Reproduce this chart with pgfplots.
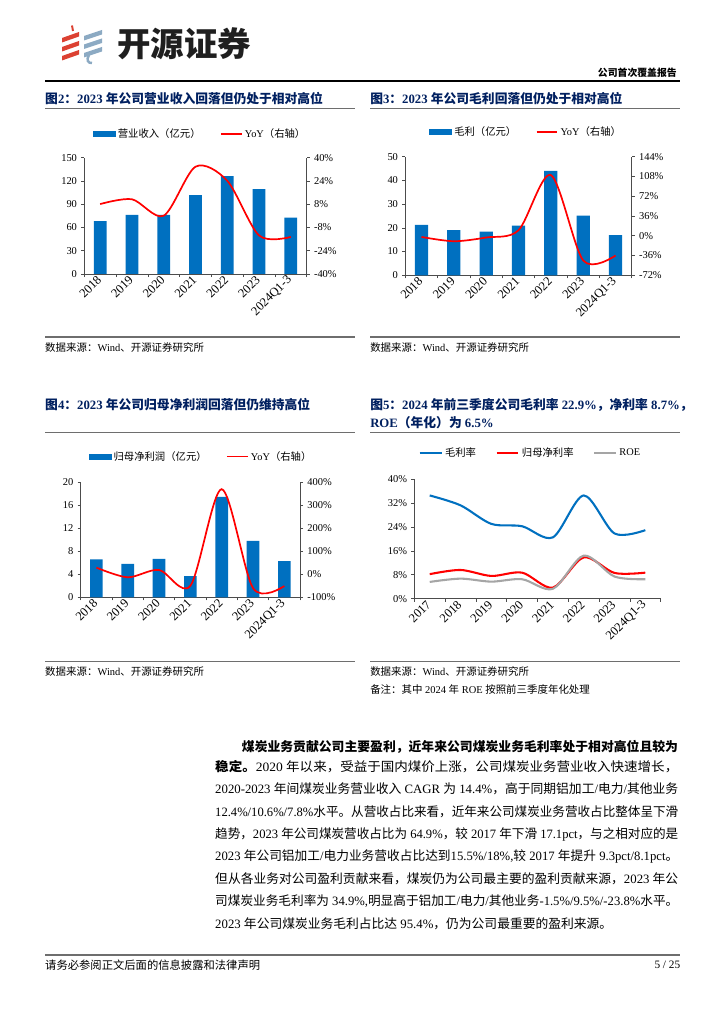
\documentclass[border=0pt]{standalone}
\usepackage{pgfplots}
\pgfplotsset{compat=1.18}
\usepackage{graphicx}
\usepackage{fontspec}
\setmainfont{Liberation Serif}
\newfontfamily\cjkfont{Noto Sans CJK SC}
% automatic switching between Latin (Liberation Serif) and CJK (Noto Sans CJK SC)
\XeTeXinterchartokenstate=1
\newXeTeXintercharclass\CJKcls
\newcount\cc
\def\setcls#1#2{\cc=#1\relax\loop\XeTeXcharclass\cc=\CJKcls\relax\ifnum\cc<#2\advance\cc by 1\repeat}
\setcls{"3000}{"303F}
\setcls{"4E00}{"9FFF}
\setcls{"FF00}{"FFEF}
\XeTeXinterchartoks 0 \CJKcls={\cjkfont}
\XeTeXinterchartoks 4095 \CJKcls={\cjkfont}
\XeTeXinterchartoks \CJKcls 0={\rmfamily}
\XeTeXinterchartoks \CJKcls 4095={\rmfamily}

\definecolor{barblue}{RGB}{0,112,192}
\definecolor{navy}{RGB}{0,32,96}
\definecolor{rulegray}{RGB}{110,110,110}
\definecolor{roegray}{RGB}{165,165,165}
\definecolor{logored}{RGB}{220,65,50}
\definecolor{logoblue}{RGB}{140,170,195}

\newcommand\titlefont{\fontsize{10.5}{12}\selectfont\bfseries}
\newcommand\bodyfont{\fontsize{10.5}{13}\selectfont}
\newcommand\srcfont{\fontsize{8.6}{10}\selectfont}

\pgfplotsset{
  pagechart/.style={
    scale only axis, anchor=south west,
    xmin=-0.5, xmax=6.5,
    axis line style={-, black!70, line width=0.6pt},
    tick style={black!70, line width=0.5pt},
    major tick length=2.5pt, minor tick length=2.5pt,
    tick align=outside,
    ticklabel style={font=\fontsize{8.6}{10}\selectfont},
    /pgf/number format/assume math mode=true,
    clip=false,
  },
  catx/.style={
    xtick={0,...,6}, major x tick style={draw=none},
    minor xtick={-0.5,0.5,...,6.5},
    xticklabel style={rotate=45, anchor=east, inner sep=1pt, font=\fontsize{10.3}{12}\selectfont},
  },
  leg/.style={legend columns=-1,
    legend style={draw=none, fill=none, at={#1}, anchor=center,
      font=\fontsize{8.5}{10}\selectfont,
      /tikz/every even column/.append style={column sep=14pt}, inner sep=0pt}},
}

\begin{document}
\begin{tikzpicture}
\begin{scope}[x=0.8222pt,y=0.8222pt]
\fill[white] (0,0) rectangle (724,1024);
\coordinate (c2) at (84.3,750);
\coordinate (c3) at (405.3,748.7);
\coordinate (c4) at (80.7,426.7);
\coordinate (c5) at (414.3,425.3);
% ---------- header ----------
\foreach \k in {0,1,2}{
  \fill[logored] (62,{1024-38-9*\k}) -- (79,{1024-32-9*\k}) -- (79,{1024-36.5-9*\k}) -- (62,{1024-42.5-9*\k}) -- cycle;
  \fill[logoblue] (84,{1024-36-8.5*\k}) -- (102,{1024-30-8.5*\k}) -- (102,{1024-34.5-8.5*\k}) -- (84,{1024-40.5-8.5*\k}) -- cycle;
}
\draw[logored, line width=1.6pt] (72,1024-25.5) -- (73,1024-31);
\draw[logoblue, line width=2pt] (89,1024-55) .. controls (86,1024-60) and (88,1024-63.5) .. (92,1024-63);
\node[anchor=west, inner sep=0, font=\fontsize{27.5}{30}\selectfont\bfseries, text=black!88] at (117,1024-43.5) {开源证券};
\node[anchor=base east, inner sep=0, font=\fontsize{8.1}{10}\selectfont\bfseries] at (677,1024-77) {公司首次覆盖报告};
\draw[black, line width=0.9pt] (45,1024-81) -- (680,1024-81);
% ---------- chart titles and rules ----------
\node[anchor=west, inner sep=0, font=\titlefont, text=navy] at (45,1024-98.3) {图2：2023 年公司营业收入回落但仍处于相对高位};
\node[anchor=west, inner sep=0, font=\titlefont, text=navy] at (370,1024-98.3) {图3：2023 年公司毛利回落但仍处于相对高位};
\draw[rulegray, line width=0.8pt] (45,1024-109) -- (355,1024-109);
\draw[rulegray, line width=0.8pt] (370,1024-109) -- (680,1024-109);
\draw[rulegray, line width=1.6pt] (45,1024-337) -- (355,1024-337);
\draw[rulegray, line width=1.6pt] (370,1024-337) -- (680,1024-337);
\node[anchor=west, inner sep=0, font=\srcfont] at (45,1024-348) {数据来源：Wind、开源证券研究所};
\node[anchor=west, inner sep=0, font=\srcfont] at (370,1024-348) {数据来源：Wind、开源证券研究所};

\node[anchor=west, inner sep=0, font=\titlefont, text=navy] at (45,1024-405) {图4：2023 年公司归母净利润回落但仍维持高位};
\node[anchor=west, inner sep=0, font=\titlefont, text=navy] at (370,1024-405) {图5：2024 年前三季度公司毛利率 22.9\%，净利率 8.7\%，};
\node[anchor=west, inner sep=0, font=\titlefont, text=navy] at (370,1024-423) {ROE（年化）为 6.5\%};
\draw[rulegray, line width=0.8pt] (45,1024-433) -- (355,1024-433);
\draw[rulegray, line width=0.8pt] (370,1024-433) -- (680,1024-433);
\draw[rulegray, line width=1.6pt] (45,1024-661.5) -- (355,1024-661.5);
\draw[rulegray, line width=1.6pt] (370,1024-661.5) -- (680,1024-661.5);
\node[anchor=west, inner sep=0, font=\srcfont] at (45,1024-672) {数据来源：Wind、开源证券研究所};
\node[anchor=west, inner sep=0, font=\srcfont] at (370,1024-672) {数据来源：Wind、开源证券研究所};
\node[anchor=west, inner sep=0, font=\srcfont] at (370,1024-690) {备注：其中 2024 年 ROE 按照前三季度年化处理};
% ---------- body text ----------
\node[anchor=west, inner sep=0, font=\bodyfont] at (241.7,1024-746.7) {\resizebox{358.5pt}{\height}{\bfseries 煤炭业务贡献公司主要盈利，近年来公司煤炭业务毛利率处于相对高位且较为}};
\node[anchor=west, inner sep=0, font=\bodyfont] at (215,1024-766.7) {\resizebox{380.7pt}{\height}{{\bfseries 稳定。}2020 年以来，受益于国内煤价上涨，公司煤炭业务营业收入快速增长，}};
\node[anchor=west, inner sep=0, font=\bodyfont] at (215,1024-789) {\resizebox{380.7pt}{\height}{2020-2023 年间煤炭业务营业收入 CAGR 为 14.4\%，高于同期铝加工/电力/其他业务}};
\node[anchor=west, inner sep=0, font=\bodyfont] at (215,1024-811.7) {\resizebox{380.7pt}{\height}{12.4\%/10.6\%/7.8\%水平。从营收占比来看，近年来公司煤炭业务营收占比整体呈下滑}};
\node[anchor=west, inner sep=0, font=\bodyfont] at (215,1024-834) {\resizebox{380.7pt}{\height}{趋势，2023 年公司煤炭营收占比为 64.9\%，较 2017 年下滑 17.1pct，与之相对应的是}};
\node[anchor=west, inner sep=0, font=\bodyfont] at (215,1024-856.4) {\resizebox{380.7pt}{\height}{2023 年公司铝加工/电力业务营收占比达到15.5\%/18\%,较 2017 年提升 9.3pct/8.1pct。}};
\node[anchor=west, inner sep=0, font=\bodyfont] at (215,1024-878.8) {\resizebox{380.7pt}{\height}{但从各业务对公司盈利贡献来看，煤炭仍为公司最主要的盈利贡献来源，2023 年公}};
\node[anchor=west, inner sep=0, font=\bodyfont] at (215,1024-901.2) {\resizebox{380.7pt}{\height}{司煤炭业务毛利率为 34.9\%,明显高于铝加工/电力/其他业务-1.5\%/9.5\%/-23.8\%水平。}};
\node[anchor=west, inner sep=0, font=\bodyfont] at (215,1024-923.6) {2023 年公司煤炭业务毛利占比达 95.4\%，仍为公司最重要的盈利来源。};
% ---------- footer ----------
\draw[rulegray, line width=1.5pt] (45,1024-955) -- (680,1024-955);
\node[anchor=west, inner sep=0, font=\fontsize{9.3}{11}\selectfont] at (45,1024-965) {请务必参阅正文后面的信息披露和法律声明};
\node[anchor=east, inner sep=0, font=\fontsize{9.3}{11}\selectfont] at (680.5,1024-965) {5 / 25};
\end{scope}

% ================= Chart 2 =================
\begin{axis}[pagechart, catx, at={(c2)}, width=182.86pt, height=95.62pt,
  axis x line*=bottom, axis y line*=left,
  ymin=0, ymax=150, ytick={0,30,60,90,120,150},
  xticklabels={2018,2019,2020,2021,2022,2023,2024Q1-3},
  leg={(0.522,1.204)}]
\addlegendimage{legend image code/.code={\fill[barblue] (0pt,-2.2pt) rectangle (18pt,2.2pt);}}
\addlegendentry{营业收入（亿元）}
\addlegendimage{legend image code/.code={\draw[red, line width=1.4pt] (0pt,0pt) -- (17pt,0pt);}}
\addlegendentry{YoY（右轴）}
\addplot[ybar, bar width=10.44pt, fill=barblue, draw=none, forget plot] coordinates {(0,68.3) (1,76.1) (2,76.1) (3,101.8) (4,126.3) (5,109.6) (6,72.6)};
\end{axis}
\begin{axis}[pagechart, at={(c2)}, width=182.86pt, height=95.62pt,
  axis x line=none, axis y line*=right,
  ymin=-40, ymax=40, ytick={-40,-24,-8,8,24,40},
  yticklabels={-40\%,-24\%,-8\%,8\%,24\%,40\%}]
\addplot[red, line width=1.4pt, smooth] coordinates {(0,8.1) (1,11.4) (2,0.1) (3,33.8) (4,24.1) (5,-13.5) (6,-14.5)};
\end{axis}

% ================= Chart 3 =================
\begin{axis}[pagechart, catx, at={(c3)}, width=186.15pt, height=97.51pt,
  axis x line*=bottom, axis y line*=left,
  ymin=0, ymax=50, ytick={0,10,20,30,40,50},
  xticklabels={2018,2019,2020,2021,2022,2023,2024Q1-3},
  leg={(0.535,1.211)}]
\addlegendimage{legend image code/.code={\fill[barblue] (0pt,-2.2pt) rectangle (18pt,2.2pt);}}
\addlegendentry{毛利（亿元）}
\addlegendimage{legend image code/.code={\draw[red, line width=1.4pt] (0pt,0pt) -- (17pt,0pt);}}
\addlegendentry{YoY（右轴）}
\addplot[ybar, bar width=10.9pt, fill=barblue, draw=none, forget plot] coordinates {(0,21.2) (1,19.0) (2,18.4) (3,20.9) (4,44.0) (5,25.1) (6,16.9)};
\end{axis}
\begin{axis}[pagechart, at={(c3)}, width=186.15pt, height=97.51pt,
  axis x line=none, axis y line*=right,
  ymin=-72, ymax=144, ytick={-72,-36,0,36,72,108,144},
  yticklabels={-72\%,-36\%,0\%,36\%,72\%,108\%,144\%}]
\addplot[red, line width=1.4pt, smooth] coordinates {(0,-2.2) (1,-10.0) (2,-3.2) (3,10) (4,110.5) (5,-45) (6,-36)};
\end{axis}

% ================= Chart 4 =================
\begin{axis}[pagechart, catx, at={(c4)}, width=180.31pt, height=94.55pt,
  axis x line*=bottom, axis y line*=left,
  ymin=0, ymax=20, ytick={0,4,8,12,16,20},
  xticklabels={2018,2019,2020,2021,2022,2023,2024Q1-3},
  leg={(0.55,1.223)}]
\addlegendimage{legend image code/.code={\fill[barblue] (0pt,-2.2pt) rectangle (18pt,2.2pt);}}
\addlegendentry{归母净利润（亿元）}
\addlegendimage{legend image code/.code={\draw[red, line width=1.4pt] (0pt,0pt) -- (17pt,0pt);}}
\addlegendentry{YoY（右轴）}
\addplot[ybar, bar width=10.4pt, fill=barblue, draw=none, forget plot] coordinates {(0,6.6) (1,5.8) (2,6.67) (3,3.7) (4,17.45) (5,9.8) (6,6.3)};
\end{axis}
\begin{axis}[pagechart, at={(c4)}, width=180.31pt, height=94.55pt,
  axis x line=none, axis y line*=right,
  ymin=-100, ymax=400, ytick={-100,0,100,200,300,400},
  yticklabels={-100\%,0\%,100\%,200\%,300\%,400\%}]
\addplot[red, line width=1.4pt, smooth] coordinates {(0,29) (1,-13) (2,19) (3,-50) (4,370) (5,-60) (6,-51)};
\end{axis}

% ================= Chart 5 =================
\begin{axis}[pagechart, at={(c5)}, width=202.59pt, height=98.42pt,
  xmin=-0.5, xmax=7.5,
  axis x line*=bottom, axis y line*=left,
  ymin=0, ymax=40, ytick={0,8,16,24,32,40},
  yticklabels={0\%,8\%,16\%,24\%,32\%,40\%},
  xtick={0,...,7}, major x tick style={draw=none},
  minor xtick={-0.5,0.5,...,7.5},
  xticklabel style={rotate=45, anchor=east, inner sep=1pt, font=\fontsize{10.3}{12}\selectfont},
  xticklabels={2017,2018,2019,2020,2021,2022,2023,2024Q1-3},
  leg={(0.472,1.217)}]
\addlegendimage{legend image code/.code={\draw[barblue, line width=1.7pt] (0pt,0pt) -- (18pt,0pt);}}
\addlegendentry{毛利率}
\addlegendimage{legend image code/.code={\draw[red, line width=1.7pt] (0pt,0pt) -- (18pt,0pt);}}
\addlegendentry{归母净利率}
\addlegendimage{legend image code/.code={\draw[roegray, line width=1.7pt] (0pt,0pt) -- (18pt,0pt);}}
\addlegendentry{ROE}
\addplot[barblue, line width=1.7pt, smooth, forget plot] coordinates {(0,34.5) (1,31.2) (2,25.0) (3,24.2) (4,20.5) (5,34.5) (6,21.8) (7,22.9)};
\addplot[red, line width=1.7pt, smooth, forget plot] coordinates {(0,8.2) (1,9.6) (2,7.6) (3,8.7) (4,3.7) (5,13.8) (6,8.6) (7,8.7)};
\addplot[roegray, line width=1.7pt, smooth, forget plot] coordinates {(0,5.6) (1,6.7) (2,5.7) (3,6.5) (4,3.3) (5,14.4) (6,7.4) (7,6.5)};
\end{axis}

\pgfresetboundingbox
\path (0,0) rectangle (595.27pt,841.93pt);
\end{tikzpicture}
\end{document}
